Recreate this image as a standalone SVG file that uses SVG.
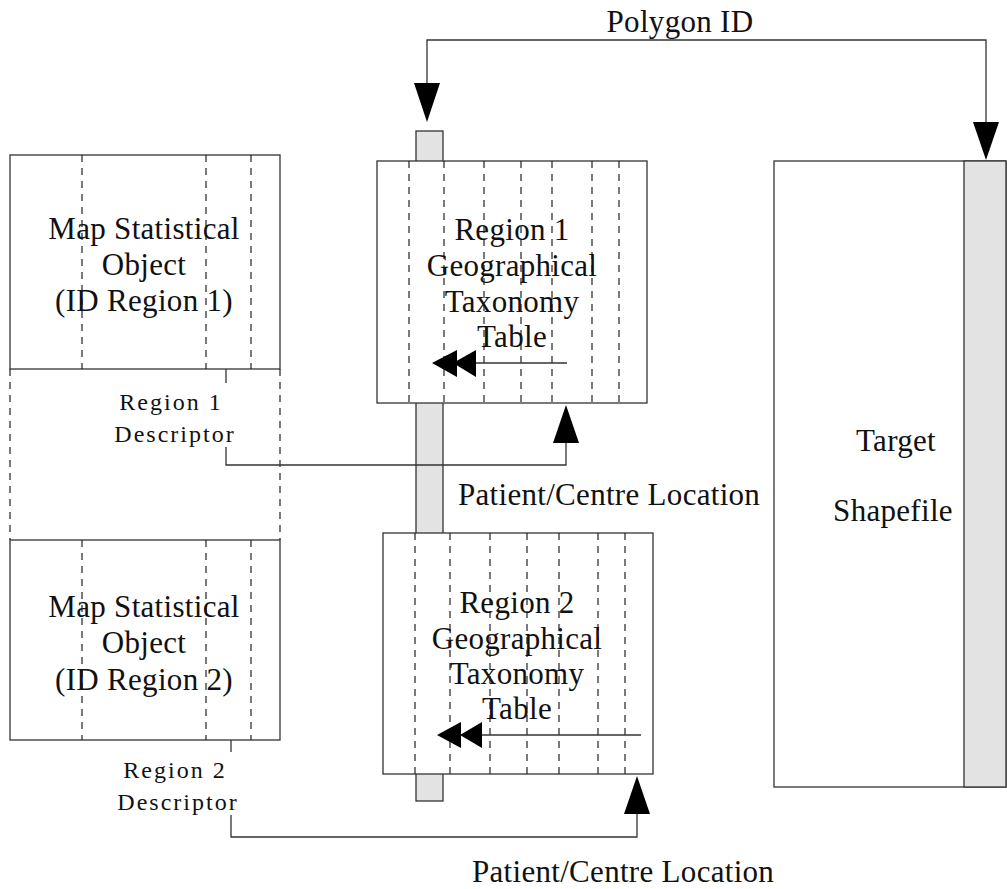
<svg xmlns="http://www.w3.org/2000/svg" width="1007" height="889" viewBox="0 0 1007 889">
<style>
.box{fill:#fff;stroke:#333;stroke-width:1.3}
.bar{fill:#e3e3e3;stroke:#333;stroke-width:1.3}
.dash{stroke:#222;stroke-width:1.2;stroke-dasharray:7,6;fill:none}
.ln{fill:none;stroke:#333;stroke-width:1.3}
.ah{fill:#000;stroke:none}
.t{font-family:"Liberation Serif",serif;font-size:31px;letter-spacing:0.3px;fill:#111;text-anchor:middle}
.s{font-family:"Liberation Serif",serif;font-size:24px;letter-spacing:2px;fill:#111;text-anchor:middle}
.l{font-family:"Liberation Serif",serif;font-size:31px;letter-spacing:0.3px;fill:#111}
</style>
<rect width="1007" height="889" fill="#fff"/>

<g id="bar-axis">
<rect class="bar" x="416" y="131" width="27" height="670"/>
</g>

<g id="map-object-1">
<rect class="box" x="10" y="155" width="270" height="214"/>
<line class="dash" x1="82" y1="155" x2="82" y2="369"/>
<line class="dash" x1="206" y1="155" x2="206" y2="369"/>
<line class="dash" x1="251" y1="155" x2="251" y2="369"/>
<text class="t" x="144" y="239">Map Statistical</text>
<text class="t" x="144" y="275">Object</text>
<text class="t" x="144" y="311">(ID Region 1)</text>
</g>

<g id="descriptor-area">
<line class="dash" x1="10" y1="369" x2="10" y2="540"/>
<line class="dash" x1="280" y1="369" x2="280" y2="540"/>
<text class="s" x="171" y="410">Region 1</text>
<text class="s" x="175" y="442">Descriptor</text>
</g>

<g id="map-object-2">
<rect class="box" x="10" y="540" width="270" height="200"/>
<line class="dash" x1="82" y1="540" x2="82" y2="740"/>
<line class="dash" x1="206" y1="540" x2="206" y2="740"/>
<line class="dash" x1="251" y1="540" x2="251" y2="740"/>
<text class="t" x="144" y="617">Map Statistical</text>
<text class="t" x="144" y="653">Object</text>
<text class="t" x="144" y="690">(ID Region 2)</text>
</g>

<g id="region2-descriptor">
<text class="s" x="175" y="778">Region 2</text>
<text class="s" x="178" y="810">Descriptor</text>
</g>

<g id="region1-table">
<rect class="box" x="377" y="161" width="270" height="242"/>
<line class="dash" x1="409" y1="161" x2="409" y2="403"/>
<line class="dash" x1="444" y1="161" x2="444" y2="403"/>
<line class="dash" x1="484" y1="161" x2="484" y2="403"/>
<line class="dash" x1="521" y1="161" x2="521" y2="403"/>
<line class="dash" x1="552" y1="161" x2="552" y2="403"/>
<line class="dash" x1="592" y1="161" x2="592" y2="403"/>
<line class="dash" x1="619" y1="161" x2="619" y2="403"/>
<text class="t" x="512" y="240">Region 1</text>
<text class="t" x="512" y="276">Geographical</text>
<text class="t" x="512" y="312">Taxonomy</text>
<text class="t" x="512" y="347">Table</text>
<line class="ln" x1="567" y1="363" x2="476" y2="363"/>
<polygon class="ah" points="476,350 476,377 453,363"/>
<polygon class="ah" points="457,350 457,377 432,363"/>
</g>

<g id="region2-table">
<rect class="box" x="383" y="533" width="270" height="241"/>
<line class="dash" x1="415" y1="533" x2="415" y2="774"/>
<line class="dash" x1="450" y1="533" x2="450" y2="774"/>
<line class="dash" x1="490" y1="533" x2="490" y2="774"/>
<line class="dash" x1="527" y1="533" x2="527" y2="774"/>
<line class="dash" x1="559" y1="533" x2="559" y2="774"/>
<line class="dash" x1="598" y1="533" x2="598" y2="774"/>
<line class="dash" x1="625" y1="533" x2="625" y2="774"/>
<text class="t" x="517" y="613">Region 2</text>
<text class="t" x="517" y="649">Geographical</text>
<text class="t" x="517" y="684">Taxonomy</text>
<text class="t" x="517" y="719">Table</text>
<line class="ln" x1="641" y1="735" x2="482" y2="735"/>
<polygon class="ah" points="482,722 482,748 460,735"/>
<polygon class="ah" points="461,722 461,748 437,735"/>
</g>

<g id="target-shapefile">
<rect class="box" x="774" y="161" width="232" height="626"/>
<rect class="bar" x="964" y="161" width="42" height="626"/>
<text class="t" x="896" y="451">Target</text>
<text class="t" x="893" y="521">Shapefile</text>
</g>

<g id="connectors">
<polyline class="ln" points="427,83 427,40 986,40 986,122"/>
<polygon class="ah" points="414,83 440,83 427,122"/>
<polygon class="ah" points="973,122 999,122 986,160"/>
<text class="t" x="680" y="32">Polygon ID</text>

<line class="ln" x1="226" y1="369" x2="226" y2="383"/>
<polyline class="ln" points="226,447 226,465 566,465 566,443"/>
<polygon class="ah" points="553,443 579,443 566,405"/>
<text class="l" x="458" y="505">Patient/Centre Location</text>

<line class="ln" x1="231" y1="740" x2="231" y2="752"/>
<polyline class="ln" points="231,815 231,837 637,837 637,814"/>
<polygon class="ah" points="624,814 650,814 637,776"/>
<text class="l" x="472" y="882">Patient/Centre Location</text>
</g>
</svg>
